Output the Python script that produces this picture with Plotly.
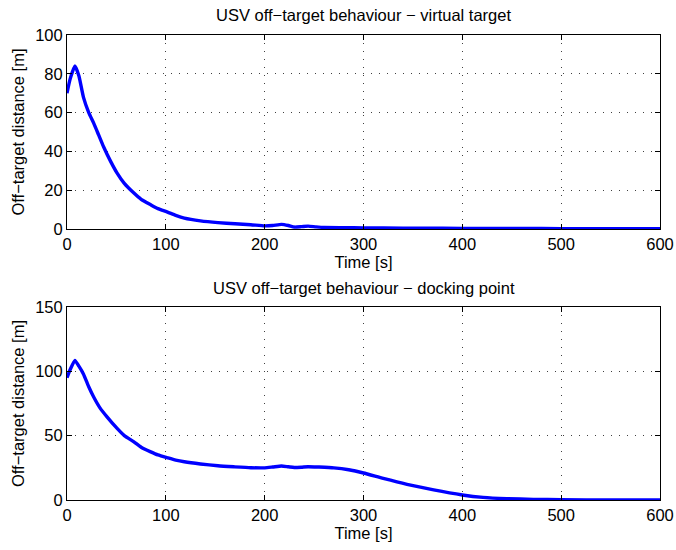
import plotly.graph_objects as go

# Data
time_top = [0, 3, 8, 12, 16.6, 22, 27, 32, 37, 44, 50.7, 58, 67.7, 75, 84.7, 92, 101.7, 110, 118.7, 135, 152.7, 170, 186, 200, 208, 217, 224, 230, 237, 244, 252, 260, 280, 300, 340, 380, 420, 460, 500, 550, 600]
dist_top = [70, 77, 84, 79, 68, 60, 54.6, 48.5, 42.4, 35, 28.8, 23.5, 18.5, 15.3, 12.5, 10.5, 8.7, 7.0, 5.6, 4.2, 3.3, 2.7, 2.2, 1.6, 1.8, 2.4, 1.8, 1.0, 1.2, 1.5, 1.1, 0.8, 0.7, 0.6, 0.45, 0.35, 0.3, 0.25, 0.2, 0.15, 0.1]

time_bot = [0, 3, 8, 12, 16.6, 22, 27, 33, 40.5, 50.7, 58, 67.7, 75, 84.7, 92, 101.7, 110, 118.7, 135, 152.7, 169, 186, 200, 208, 217, 224, 230, 237, 244, 255, 270, 285, 300, 320, 344, 371, 400, 421, 445, 472, 500, 550, 600]
dist_bot = [95, 101, 108.5, 104, 98, 88, 80, 72, 64.6, 55.6, 50, 45.2, 41, 37.4, 35, 32.8, 31, 29.7, 28, 26.6, 25.8, 25.1, 25.0, 25.6, 26.4, 25.8, 25.3, 25.5, 25.9, 25.6, 25.0, 23.5, 21, 16.8, 12.2, 7.8, 3.9, 2.0, 1.0, 0.5, 0.2, 0.05, 0.0]

x_ticks = [0, 100, 200, 300, 400, 500, 600]
y_ticks_top = [0, 20, 40, 60, 80, 100]
y_ticks_bot = [0, 50, 100, 150]

title_top = "USV off\u2212target behaviour \u2212 virtual target"
title_bot = "USV off\u2212target behaviour \u2212 docking point"
y_label = "Off\u2212target distance [m]"
x_label = "Time [s]"

W, H = 676, 550
FONT = "Liberation Sans, Arial, Helvetica, sans-serif"
FS = 16.5

fig = go.Figure()
fig.add_trace(go.Scatter(x=time_top, y=dist_top, mode="lines",
                         line=dict(color="#0000FF", width=3.4, shape="spline", smoothing=0.5),
                         xaxis="x", yaxis="y", showlegend=False))
fig.add_trace(go.Scatter(x=time_bot, y=dist_bot, mode="lines",
                         line=dict(color="#0000FF", width=3.4, shape="spline", smoothing=0.5),
                         xaxis="x2", yaxis="y2", showlegend=False))

xdom = [67 / W, 660 / W]
ydom_top = [(H - 229) / H, (H - 35) / H]
ydom_bot = [(H - 500) / H, (H - 307) / H]

common = dict(showline=True, linecolor="black", linewidth=1, mirror="ticks",
              ticks="inside", ticklen=5, tickcolor="black", automargin=False,
              showgrid=True, gridcolor="#404040", gridwidth=1, griddash="1px,7px",
              zeroline=False, tickfont=dict(size=FS, color="black", family=FONT))

fig.update_layout(
    width=W, height=H,
    margin=dict(l=0, r=0, t=0, b=0),
    paper_bgcolor="white", plot_bgcolor="white",
    font=dict(family=FONT, color="black", size=FS),
    xaxis=dict(domain=xdom, range=[0, 600], tickvals=x_ticks, anchor="y",
               title=dict(text=x_label, standoff=2, font=dict(size=FS)), **common),
    yaxis=dict(domain=ydom_top, range=[0, 100], tickvals=y_ticks_top, anchor="x",
               title=dict(text=y_label, standoff=6, font=dict(size=FS)), **common),
    xaxis2=dict(domain=xdom, range=[0, 600], tickvals=x_ticks, anchor="y2",
                title=dict(text=x_label, standoff=2, font=dict(size=FS)), **common),
    yaxis2=dict(domain=ydom_bot, range=[0, 150], tickvals=y_ticks_bot, anchor="x2",
                title=dict(text=y_label, standoff=6, font=dict(size=FS)), **common),
    annotations=[
        dict(text=title_top, x=(xdom[0] + xdom[1]) / 2, y=(H - 15) / H, xref="paper", yref="paper",
             showarrow=False, font=dict(size=FS, color="black", family=FONT), yanchor="middle"),
        dict(text=title_bot, x=(xdom[0] + xdom[1]) / 2, y=(H - 288) / H, xref="paper", yref="paper",
             showarrow=False, font=dict(size=FS, color="black", family=FONT), yanchor="middle"),
    ],
)

fig.write_html("out.html")
